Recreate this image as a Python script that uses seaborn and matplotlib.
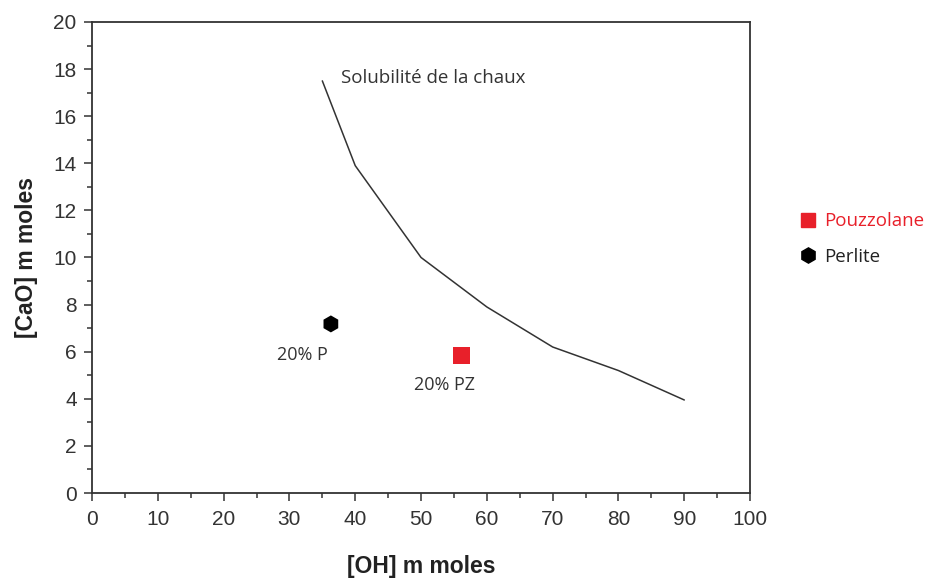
import matplotlib
matplotlib.use("Agg")
import matplotlib.pyplot as plt
from matplotlib.ticker import MultipleLocator
from matplotlib.lines import Line2D
import seaborn as sns
import pandas as pd

# Data
curve_oh = [35, 40, 50, 60, 70, 80, 90]
curve_cao = [17.5, 13.9, 10.0, 7.9, 6.2, 5.2, 3.95]
curve_label = "Solubilité de la chaux"

point_names = ["Pouzzolane", "Perlite"]
point_oh = [56.1, 36.3]
point_cao = [5.82, 7.18]
point_labels = ["20% PZ", "20% P"]

x_label = "[OH] m moles"
y_label = "[CaO] m moles"

sns.set_theme(style="white")
plt.rcParams['font.family'] = ['Liberation Sans', 'DejaVu Sans']

fig = plt.figure(figsize=(9.27, 5.78), dpi=100)
ax = fig.add_axes([0.0992, 0.147, 0.7100, 0.815])

curve_df = pd.DataFrame({"OH": curve_oh, "CaO": curve_cao})
sns.lineplot(data=curve_df, x="OH", y="CaO", ax=ax, color="#333333",
             linewidth=1.1, sort=False, estimator=None)

pts = pd.DataFrame({"OH": point_oh, "CaO": point_cao, "name": point_names})
sns.scatterplot(data=pts, x="OH", y="CaO", hue="name", style="name",
                palette={"Pouzzolane": "#e8202a", "Perlite": "black"},
                markers={"Pouzzolane": "s", "Perlite": "h"},
                s=150, edgecolor="none", ax=ax, legend=False)

ann_font = ['Open Sans', 'DejaVu Sans']
ax.text(37.8, 17.6, curve_label, family=ann_font,
        fontsize=13.5, color="#333333", ha="left", va="center")
ax.text(53.6, 4.6, point_labels[0], family=ann_font,
        fontsize=13, color="#333333", ha="center", va="center")
ax.text(31.9, 5.86, point_labels[1], family=ann_font,
        fontsize=13, color="#333333", ha="center", va="center")

ax.set_xlim(0, 100)
ax.set_ylim(0, 20)
ax.xaxis.set_major_locator(MultipleLocator(10))
ax.xaxis.set_minor_locator(MultipleLocator(5))
ax.yaxis.set_major_locator(MultipleLocator(2))
ax.yaxis.set_minor_locator(MultipleLocator(1))
ax.tick_params(axis="both", which="major", direction="out", length=6, width=1.1,
               color="#333333", labelsize=15, labelcolor="#333333",
               bottom=True, left=True, top=False, right=False)
ax.tick_params(axis="x", which="major", pad=6)
ax.tick_params(axis="y", which="major", pad=5)
ax.tick_params(axis="both", which="minor", direction="out", length=3.5, width=1.1,
               color="#333333", bottom=True, left=True, top=False, right=False)
for sp in ax.spines.values():
    sp.set_color("#333333")
    sp.set_linewidth(1.3)

ax.set_xlabel(x_label, fontsize=16.5, fontweight="bold", color="#222222", labelpad=19)
ax.set_ylabel(y_label, fontsize=16.5, fontweight="bold", color="#222222", labelpad=11)

handles = [
    Line2D([], [], marker="s", color="#e8202a", linestyle="none", markersize=10),
    Line2D([], [], marker="h", color="black", linestyle="none", markersize=11),
]
leg = fig.legend(handles, point_names, loc="upper left", bbox_to_anchor=(0.843, 0.662),
                 frameon=False, prop={"family": ann_font, "size": 13.5},
                 handletextpad=0.35, labelspacing=0.95, handlelength=1.0)
leg.get_texts()[0].set_color("#e8202a")
leg.get_texts()[1].set_color("#222222")

fig.savefig("out.png", dpi=100)
